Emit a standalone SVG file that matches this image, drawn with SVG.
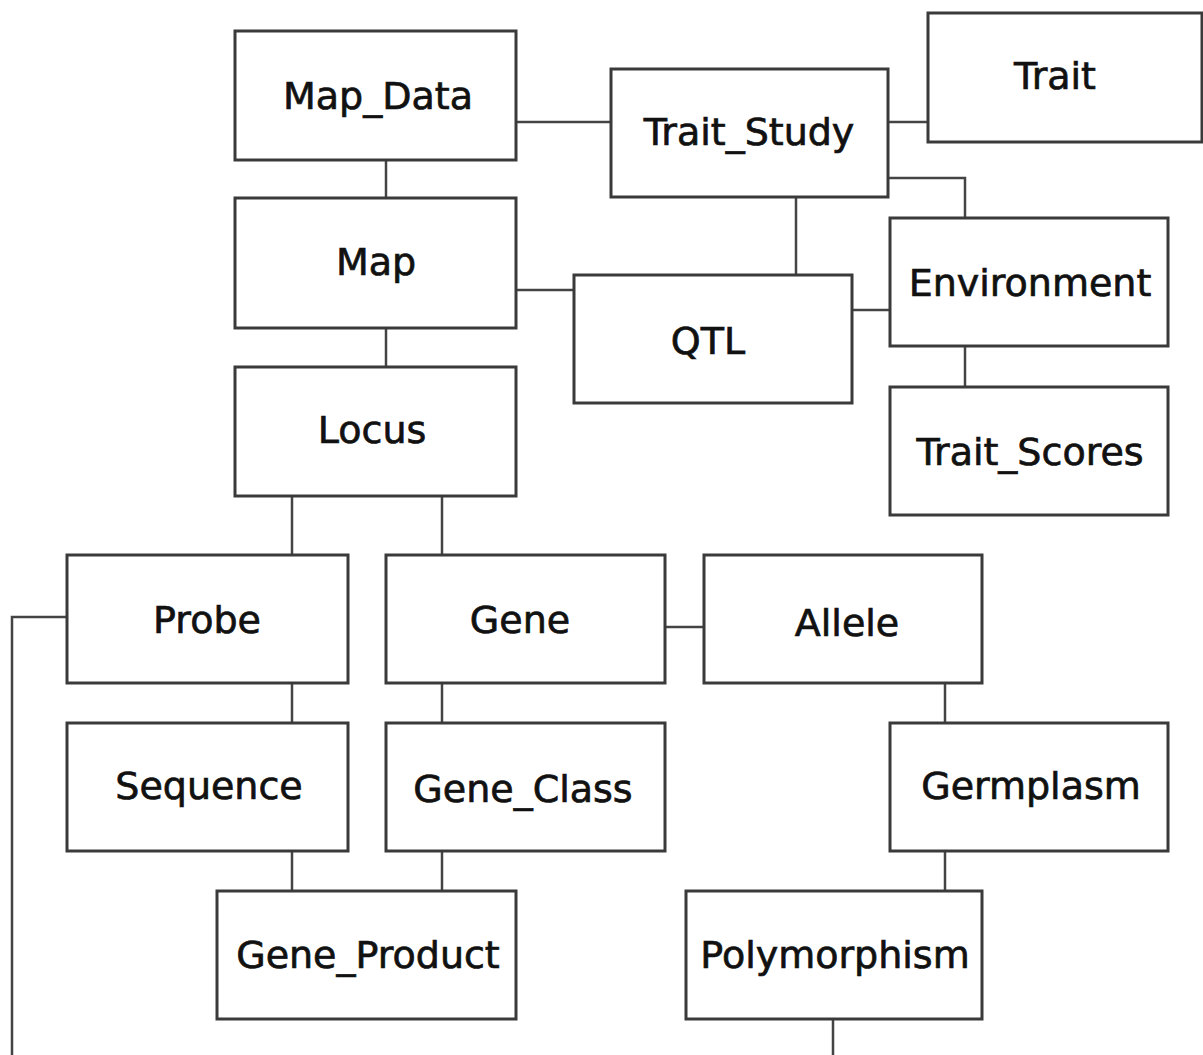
<svg xmlns="http://www.w3.org/2000/svg" width="1203" height="1055" viewBox="0 0 1203 1055">
<style>
.box{fill:#fff;stroke:#3a3a3a;stroke-width:3}
.lbl{font-family:"DejaVu Sans",Verdana,sans-serif;font-size:38px;fill:#111;stroke:#111;stroke-width:0.7;text-anchor:middle}
.c{fill:none;stroke:#444;stroke-width:2.5}
</style>
<rect width="1203" height="1055" fill="#fff"/>
<g id="connectors">
<path class="c" d="M516 122H611"/>
<path class="c" d="M888 122H928"/>
<path class="c" d="M386 160V198"/>
<path class="c" d="M386 328V367"/>
<path class="c" d="M888 178H965V218"/>
<path class="c" d="M796 197V275"/>
<path class="c" d="M516 290H574"/>
<path class="c" d="M852 310H890"/>
<path class="c" d="M965 346V387"/>
<path class="c" d="M292 496V555"/>
<path class="c" d="M442 496V555"/>
<path class="c" d="M665 627H704"/>
<path class="c" d="M945 683V723"/>
<path class="c" d="M292 683V723"/>
<path class="c" d="M442 683V723"/>
<path class="c" d="M292 851V891"/>
<path class="c" d="M442 851V891"/>
<path class="c" d="M945 851V891"/>
<path class="c" d="M833 1019V1056.2H12V617H67"/>
</g>
<g id="Map_Data"><rect class="box" x="235" y="31" width="281" height="129"/><text class="lbl" x="378" y="109">Map_Data</text></g>
<g id="Map"><rect class="box" x="235" y="198" width="281" height="130"/><text class="lbl" x="376" y="275">Map</text></g>
<g id="Locus"><rect class="box" x="235" y="367" width="281" height="129"/><text class="lbl" x="372" y="443">Locus</text></g>
<g id="Trait_Study"><rect class="box" x="611" y="69" width="277" height="128"/><text class="lbl" x="749" y="145">Trait_Study</text></g>
<g id="Trait"><rect class="box" x="928" y="13" width="274" height="129"/><text class="lbl" x="1055" y="89">Trait</text></g>
<g id="Environment"><rect class="box" x="890" y="218" width="278" height="128"/><text class="lbl" x="1030" y="296">Environment</text></g>
<g id="QTL"><rect class="box" x="574" y="275" width="278" height="128"/><text class="lbl" x="708" y="354">QTL</text></g>
<g id="Trait_Scores"><rect class="box" x="890" y="387" width="278" height="128"/><text class="lbl" x="1030" y="465">Trait_Scores</text></g>
<g id="Probe"><rect class="box" x="67" y="555" width="281" height="128"/><text class="lbl" x="207" y="633">Probe</text></g>
<g id="Gene"><rect class="box" x="386" y="555" width="279" height="128"/><text class="lbl" x="520" y="633">Gene</text></g>
<g id="Allele"><rect class="box" x="704" y="555" width="278" height="128"/><text class="lbl" x="847" y="636">Allele</text></g>
<g id="Sequence"><rect class="box" x="67" y="723" width="281" height="128"/><text class="lbl" x="209" y="799">Sequence</text></g>
<g id="Gene_Class"><rect class="box" x="386" y="723" width="279" height="128"/><text class="lbl" x="523" y="802">Gene_Class</text></g>
<g id="Germplasm"><rect class="box" x="890" y="723" width="278" height="128"/><text class="lbl" x="1031" y="799">Germplasm</text></g>
<g id="Gene_Product"><rect class="box" x="217" y="891" width="299" height="128"/><text class="lbl" x="368" y="968">Gene_Product</text></g>
<g id="Polymorphism"><rect class="box" x="686" y="891" width="296" height="128"/><text class="lbl" x="835" y="968">Polymorphism</text></g>
</svg>
